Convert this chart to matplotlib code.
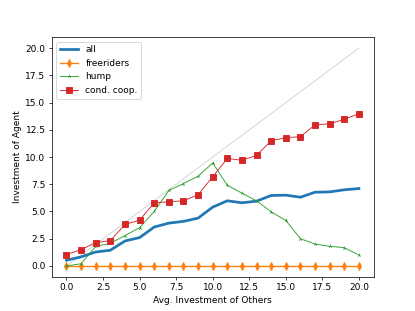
import numpy as np
import matplotlib
matplotlib.use("Agg")
import matplotlib.pyplot as plt

others = np.arange(21)
all_agents = [0.52, 0.83, 1.28, 1.44, 2.29, 2.6, 3.57, 3.93, 4.09, 4.39, 5.4,
              5.98, 5.8, 5.95, 6.47, 6.5, 6.31, 6.77, 6.8, 6.99, 7.11]
freeriders = [0.0] * 21
hump = [0.0, 0.2, 1.8, 2.08, 2.78, 3.51, 5.0, 6.93, 7.57, 8.24, 9.46,
        7.41, 6.68, 5.98, 4.97, 4.18, 2.5, 2.01, 1.8, 1.68, 1.0]
cond_coop = [1.04, 1.5, 2.14, 2.32, 3.81, 4.2, 5.8, 5.89, 5.98, 6.53, 8.18,
             9.88, 9.7, 10.16, 11.5, 11.78, 11.87, 12.96, 13.05, 13.48, 13.97]

fig = plt.figure(figsize=(415 / 65, 311 / 65), dpi=65)
ax = fig.add_subplot(111)
ax.plot(others, others, color="lightgray", lw=1)
ax.plot(others, all_agents, color="C0", lw=3, label="all")
ax.plot(others, freeriders, color="C1", marker="d", lw=1.5, ms=6, label="freeriders")
ax.plot(others, hump, color="C2", marker="2", lw=1, ms=4, label="hump")
ax.plot(others, cond_coop, color="C3", marker="s", lw=1, ms=6, label="cond. coop.")
ax.set_xlabel("Avg. Investment of Others")
ax.set_ylabel("Investment of Agent")
ax.legend(loc="upper left")
fig.savefig("out.png", dpi=65)
